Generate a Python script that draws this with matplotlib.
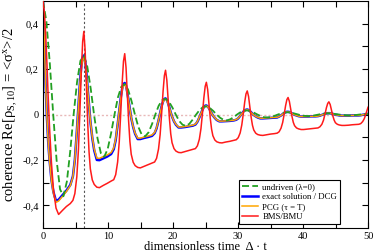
import matplotlib
matplotlib.use("Agg")
import matplotlib.pyplot as plt

plt.rcParams['font.family'] = ['Liberation Serif', 'DejaVu Serif']
plt.rcParams['mathtext.fontset'] = 'custom'
plt.rcParams['mathtext.rm'] = 'Liberation Serif'
plt.rcParams['mathtext.it'] = 'Liberation Serif:italic'

# time grid for undriven curve
t_undriven = [0.0, 0.52, 1.05, 1.57, 2.09, 2.62, 3.14, 3.67, 4.19, 4.71, 5.24, 5.76,
              6.28, 6.81, 7.33, 7.85, 8.38, 8.90, 9.42, 9.95, 10.47, 11.0, 11.52, 12.04,
              12.57, 13.09, 13.61, 14.14, 14.66, 15.18, 15.71, 16.23, 16.76, 17.28, 17.80, 18.33,
              18.85, 19.37, 19.90, 20.42, 20.94, 21.47, 21.99, 22.51, 23.04, 23.56, 24.09, 24.61,
              25.13, 25.66, 26.18, 26.70, 27.23, 27.75, 28.27, 28.80, 29.32, 29.85, 30.37, 30.89,
              31.42, 31.94, 32.46, 32.99, 33.51, 34.03, 34.56, 35.08, 35.60, 36.13, 36.65, 37.18,
              37.70, 38.22, 38.75, 39.27, 39.79, 40.32, 40.84, 41.36, 41.89, 42.41, 42.94, 43.46,
              43.98, 44.51, 45.03, 45.55, 46.08, 46.60, 47.12, 47.65, 48.17, 48.69, 49.22, 49.74,
              50.0]
undriven = [0.5, 0.410, 0.224, 0.0, -0.201, -0.329, -0.360, -0.295, -0.161, 0.0, 0.144, 0.237,
            0.259, 0.212, 0.116, 0.0, -0.104, -0.170, -0.186, -0.152, -0.083, 0.0, 0.075, 0.122,
            0.134, 0.110, 0.060, 0.0, -0.054, -0.088, -0.096, -0.079, -0.043, 0.0, 0.039, 0.063,
            0.069, 0.057, 0.031, 0.0, -0.028, -0.045, -0.050, -0.041, -0.022, 0.0, 0.020, 0.033,
            0.036, 0.029, 0.016, 0.0, -0.014, -0.023, -0.026, -0.021, -0.012, 0.0, 0.010, 0.017,
            0.018, 0.015, 0.008, 0.0, -0.007, -0.012, -0.013, -0.011, -0.006, 0.0, 0.005, 0.009,
            0.010, 0.008, 0.004, 0.0, -0.004, -0.006, -0.007, -0.006, -0.003, 0.0, 0.003, 0.005,
            0.005, 0.004, 0.002, 0.0, -0.002, -0.003, -0.004, -0.003, -0.002, 0.0, 0.001, 0.002,
            0.002]

# time grid for driven curves (one row per driving period)
t_driven = [0.0, 0.2, 0.4, 0.6, 0.8, 1.0, 1.3, 1.6, 2.0, 2.4, 3.0, 3.6, 4.2, 4.6, 4.9, 5.2, 5.45, 5.7, 5.9, 6.1,
            6.28, 6.48, 6.68, 6.88, 7.08, 7.28, 7.58, 7.88, 8.28, 8.68, 9.28, 9.88, 10.48, 10.88, 11.18, 11.48, 11.73, 11.98, 12.18, 12.38,
            12.57, 12.77, 12.97, 13.17, 13.37, 13.57, 13.87, 14.17, 14.57, 14.97, 15.57, 16.17, 16.77, 17.17, 17.47, 17.77, 18.02, 18.27, 18.47, 18.67,
            18.85, 19.05, 19.25, 19.45, 19.65, 19.85, 20.15, 20.45, 20.85, 21.25, 21.85, 22.45, 23.05, 23.45, 23.75, 24.05, 24.30, 24.55, 24.75, 24.95,
            25.13, 25.33, 25.53, 25.73, 25.93, 26.13, 26.43, 26.73, 27.13, 27.53, 28.13, 28.73, 29.33, 29.73, 30.03, 30.33, 30.58, 30.83, 31.03, 31.23,
            31.42, 31.62, 31.82, 32.02, 32.22, 32.42, 32.72, 33.02, 33.42, 33.82, 34.42, 35.02, 35.62, 36.02, 36.32, 36.62, 36.87, 37.12, 37.32, 37.52,
            37.70, 37.90, 38.10, 38.30, 38.50, 38.70, 39.00, 39.30, 39.70, 40.10, 40.70, 41.30, 41.90, 42.30, 42.60, 42.90, 43.15, 43.40, 43.60, 43.80,
            43.98, 44.18, 44.38, 44.58, 44.78, 44.98, 45.28, 45.58, 45.98, 46.38, 46.98, 47.58, 48.18, 48.58, 48.88, 49.18, 49.43, 49.68, 49.88, 50.0]

exact_dcg = [0.5, 0.323, 0.128, -0.013, -0.12, -0.199, -0.288, -0.341, -0.381, -0.375, -0.355, -0.335, -0.31, -0.272, -0.199, -0.076, 0.036, 0.148, 0.215, 0.252,
             0.26, 0.237, 0.181, 0.111, 0.037, -0.028, -0.103, -0.158, -0.200, -0.201, -0.193, -0.185, -0.174, -0.153, -0.113, -0.045, 0.016, 0.078, 0.114, 0.134,
             0.139, 0.127, 0.097, 0.059, 0.019, -0.015, -0.055, -0.085, -0.108, -0.108, -0.103, -0.099, -0.094, -0.082, -0.061, -0.026, 0.007, 0.039, 0.058, 0.069,
             0.071, 0.065, 0.049, 0.030, 0.009, -0.009, -0.030, -0.045, -0.057, -0.057, -0.055, -0.052, -0.049, -0.044, -0.032, -0.013, 0.005, 0.022, 0.033, 0.039,
             0.040, 0.036, 0.028, 0.017, 0.006, -0.004, -0.015, -0.024, -0.030, -0.030, -0.029, -0.028, -0.026, -0.023, -0.017, -0.006, 0.003, 0.013, 0.018, 0.021,
             0.022, 0.020, 0.015, 0.010, 0.003, -0.002, -0.008, -0.013, -0.017, -0.017, -0.016, -0.015, -0.014, -0.013, -0.009, -0.004, 0.002, 0.007, 0.010, 0.012,
             0.012, 0.011, 0.008, 0.005, 0.002, -0.001, -0.004, -0.007, -0.009, -0.009, -0.009, -0.008, -0.008, -0.007, -0.005, -0.002, 0.001, 0.004, 0.005, 0.006,
             0.006, 0.006, 0.004, 0.003, 0.001, -0.001, -0.002, -0.004, -0.005, -0.005, -0.005, -0.004, -0.004, -0.004, -0.003, -0.001, 0.000, 0.002, 0.003, 0.003]

pcg = [0.5, 0.323, 0.128, -0.014, -0.122, -0.202, -0.292, -0.346, -0.387, -0.381, -0.360, -0.339, -0.313, -0.274, -0.199, -0.076, 0.033, 0.141, 0.206, 0.242,
       0.250, 0.228, 0.174, 0.107, 0.036, -0.027, -0.099, -0.152, -0.192, -0.193, -0.185, -0.178, -0.167, -0.147, -0.108, -0.043, 0.015, 0.075, 0.109, 0.129,
       0.133, 0.122, 0.093, 0.057, 0.018, -0.014, -0.053, -0.082, -0.104, -0.104, -0.099, -0.095, -0.090, -0.079, -0.059, -0.025, 0.007, 0.037, 0.056, 0.066,
       0.068, 0.062, 0.047, 0.029, 0.009, -0.009, -0.029, -0.043, -0.055, -0.055, -0.053, -0.050, -0.047, -0.042, -0.031, -0.012, 0.005, 0.021, 0.032, 0.037,
       0.038, 0.035, 0.027, 0.016, 0.006, -0.004, -0.014, -0.023, -0.029, -0.029, -0.028, -0.027, -0.025, -0.022, -0.016, -0.006, 0.003, 0.012, 0.017, 0.020,
       0.021, 0.019, 0.014, 0.009, 0.003, -0.002, -0.008, -0.012, -0.016, -0.016, -0.015, -0.014, -0.013, -0.012, -0.009, -0.004, 0.002, 0.007, 0.010, 0.011,
       0.011, 0.010, 0.008, 0.005, 0.002, -0.001, -0.004, -0.007, -0.009, -0.009, -0.009, -0.008, -0.008, -0.007, -0.005, -0.002, 0.001, 0.004, 0.005, 0.006,
       0.006, 0.006, 0.004, 0.003, 0.001, -0.001, -0.002, -0.004, -0.005, -0.005, -0.005, -0.004, -0.004, -0.004, -0.003, -0.001, 0.000, 0.002, 0.003, 0.003]

bms = [0.5, 0.453, 0.359, 0.227, 0.077, -0.055, -0.214, -0.327, -0.412, -0.440, -0.422, -0.405, -0.392, -0.378, -0.348, -0.274, -0.155, 0.031, 0.195, 0.321,
       0.366, 0.283, 0.118, -0.040, -0.164, -0.239, -0.288, -0.308, -0.320, -0.322, -0.312, -0.303, -0.293, -0.287, -0.265, -0.209, -0.120, 0.018, 0.140, 0.235,
       0.268, 0.208, 0.087, -0.029, -0.119, -0.175, -0.210, -0.225, -0.233, -0.235, -0.228, -0.221, -0.214, -0.209, -0.193, -0.152, -0.088, 0.013, 0.102, 0.171,
       0.195, 0.151, 0.064, -0.019, -0.085, -0.124, -0.150, -0.161, -0.167, -0.168, -0.163, -0.158, -0.153, -0.150, -0.138, -0.109, -0.062, 0.011, 0.075, 0.124,
       0.142, 0.110, 0.046, -0.016, -0.064, -0.093, -0.112, -0.120, -0.124, -0.125, -0.121, -0.118, -0.114, -0.111, -0.102, -0.081, -0.046, 0.007, 0.055, 0.091,
       0.104, 0.080, 0.033, -0.012, -0.047, -0.068, -0.082, -0.088, -0.091, -0.092, -0.089, -0.086, -0.084, -0.082, -0.076, -0.060, -0.035, 0.004, 0.039, 0.066,
       0.075, 0.058, 0.024, -0.008, -0.034, -0.049, -0.059, -0.063, -0.066, -0.066, -0.064, -0.062, -0.060, -0.059, -0.054, -0.043, -0.025, 0.004, 0.030, 0.049,
       0.056, 0.044, 0.019, -0.005, -0.024, -0.036, -0.043, -0.046, -0.048, -0.048, -0.047, -0.045, -0.044, -0.043, -0.040, -0.031, -0.018, 0.003, 0.022, 0.032]

labels = ['undriven (λ=0)', 'exact solution / DCG', 'PCG (τ = T)', 'BMS/BMU']
x_ticks = [0, 10, 20, 30, 40, 50]
y_ticks = [-0.4, -0.2, 0.0, 0.2, 0.4]
y_ticklabels = ['-0,4', '-0,2', '0', '0,2', '0,4']
drive_period = 6.2832

fig = plt.figure(figsize=(3.74, 2.52), dpi=100)
ax = fig.add_axes([0.115, 0.095, 0.869, 0.901])

ax.axhline(0, color='#e8b8b8', lw=1.0, ls=(0, (1.5, 1.5)), zorder=1)
ax.axvline(drive_period, color='#555555', lw=0.8, ls=(0, (2, 2)), zorder=1)

ax.plot(t_undriven, undriven, color='#22a022', lw=1.3, ls=(0, (3.9, 1.8)), label=labels[0], zorder=3)
ax.plot(t_driven, exact_dcg, color='#0000ff', lw=1.8, label=labels[1], zorder=2)
ax.plot(t_driven, pcg, color='#ffa500', lw=1.1, label=labels[2], zorder=2.5)
ax.plot(t_driven, bms, color='#ff1a1a', lw=1.1, label=labels[3], zorder=4)

ax.set_xlim(0, 50)
ax.set_ylim(-0.5, 0.5)
ax.set_xticks(x_ticks)
ax.set_xticks([5, 15, 25, 35, 45], minor=True)
ax.set_yticks(y_ticks)
ax.set_yticklabels(y_ticklabels)
ax.set_yticks([-0.3, -0.1, 0.1, 0.3], minor=True)
ax.tick_params(which='both', direction='in', top=True, right=True, length=4, width=0.8, labelsize=7.5, pad=3)

ax.set_xlabel('dimensionless time  Δ · t', fontsize=9, labelpad=-0.5)
ax.set_ylabel(r'coherence Re[$\mathrm{\rho_{S,10}}$] = <$\mathrm{\sigma^x}$>/2', fontsize=10.5, labelpad=2)

leg = ax.legend(loc='lower left', bbox_to_anchor=(0.597, 0.01), fontsize=6.3, frameon=True,
                fancybox=False, edgecolor='black', framealpha=1, handlelength=1.85,
                borderpad=0.35, labelspacing=0.22, handletextpad=0.5, borderaxespad=0.2)
leg.get_frame().set_linewidth(0.8)

fig.savefig('out.png', dpi=100)
